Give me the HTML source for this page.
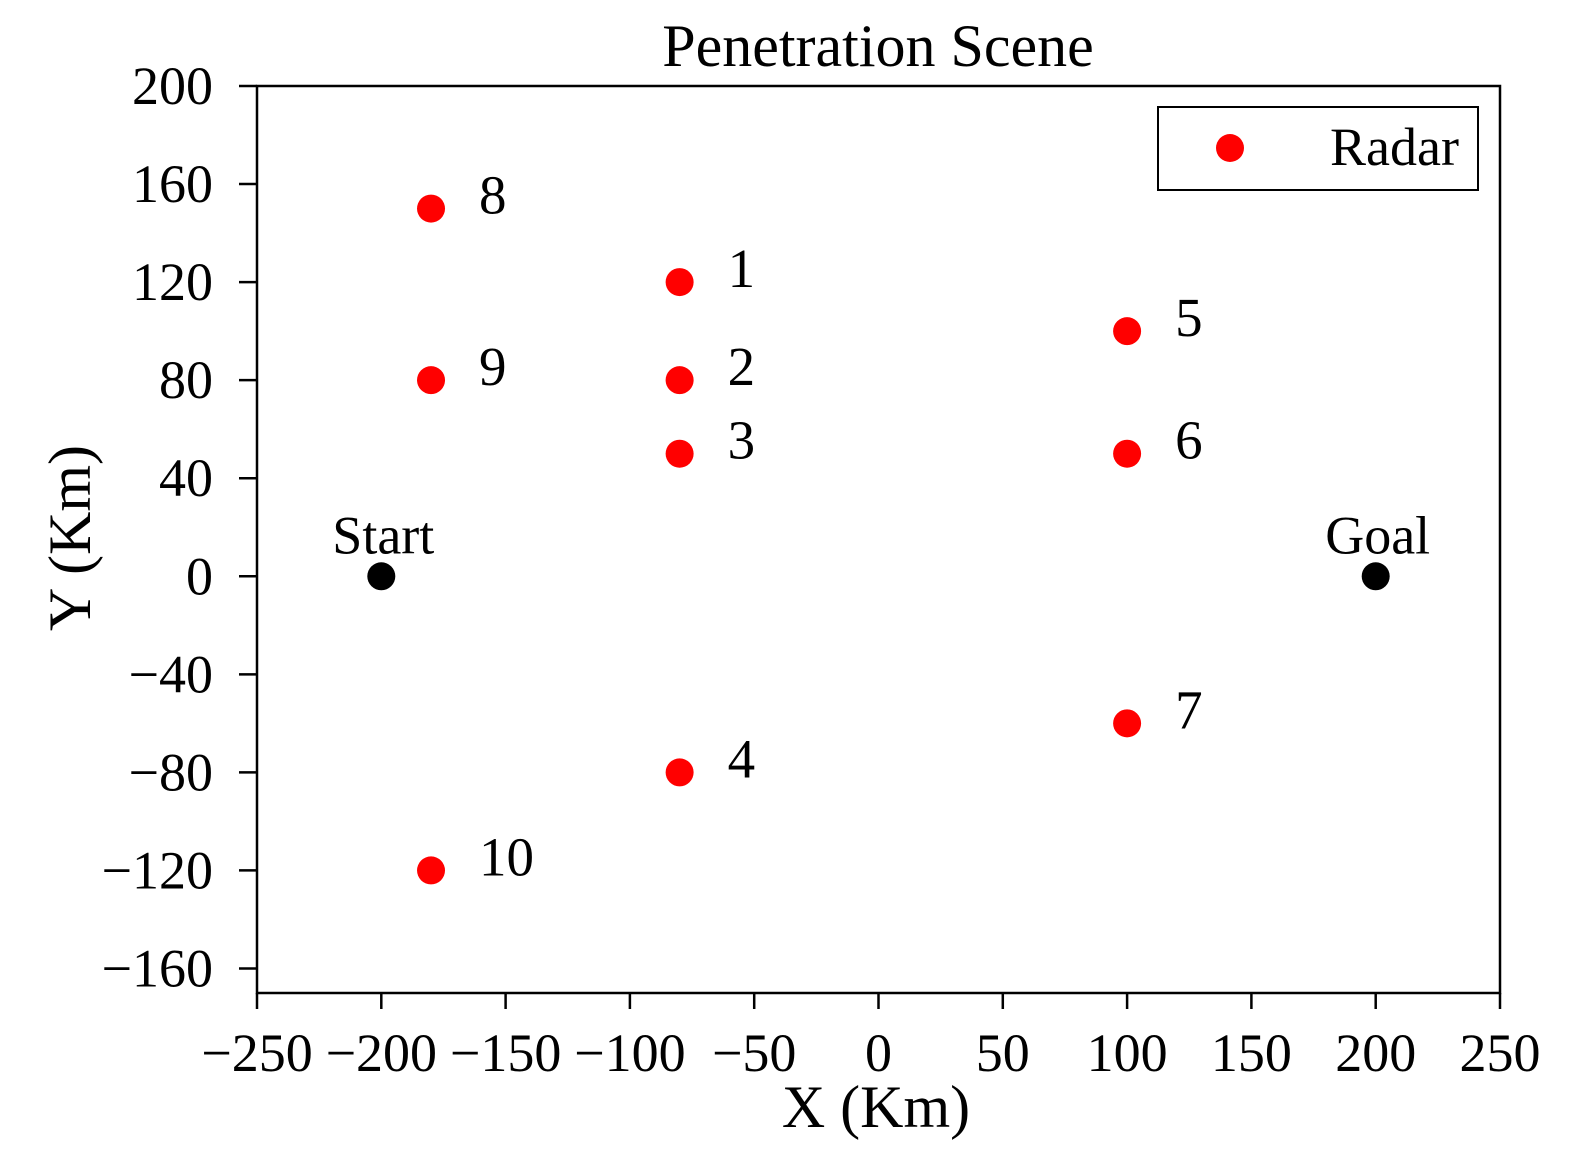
<!DOCTYPE html>
<html><head><meta charset="utf-8"><style>
html,body{margin:0;padding:0;background:#fff;}
svg{display:block;font-family:"Liberation Serif",serif;}
</style></head><body>
<svg id="chart" width="1579" height="1171" xmlns="http://www.w3.org/2000/svg"></svg>
<script>
const xTicks=[-250,-200,-150,-100,-50,0,50,100,150,200,250];
const yTicks=[200,160,120,80,40,0,-40,-80,-120,-160];
const radarIds=["1","2","3","4","5","6","7","8","9","10"];
const radarX=[-80,-80,-80,-80,100,100,100,-180,-180,-180];
const radarY=[120,80,50,-80,100,50,-60,150,80,-120];
const pointNames=["Start","Goal"];
const pointX=[-200,200];
const pointY=[0,0];

const L=257,R=1500,T=86,B=993;
const xmin=-250,xmax=250,ymin=-170,ymax=200;
const sx=v=>L+(v-xmin)/(xmax-xmin)*(R-L);
const sy=v=>B-(v-ymin)/(ymax-ymin)*(B-T);
const svg=document.getElementById('chart');
const NS="http://www.w3.org/2000/svg";
function mk(tag,attrs,parent){const e=document.createElementNS(NS,tag);for(const k in attrs)e.setAttribute(k,attrs[k]);(parent||svg).appendChild(e);return e;}

const title=mk('text',{x:878,y:66,'text-anchor':'middle','font-size':60});
title.textContent="Penetration Scene";



const frame=mk('rect',{x:L,y:T,width:R-L,height:B-T,fill:'none',stroke:'#000','stroke-width':2.5});



xTicks.forEach(v=>{
  const x=sx(v);
  const t=mk('line',{x1:x,x2:x,y1:B,y2:B+16,stroke:'#000','stroke-width':2.5});
  
  
  const l=mk('text',{x:x,y:B+78,'text-anchor':'middle','font-size':54});
  l.textContent=v<0?'\u2212'+(-v):String(v);
  
  
});
yTicks.forEach(v=>{
  const y=sy(v);
  const t=mk('line',{x1:L-18,x2:L,y1:y,y2:y,stroke:'#000','stroke-width':2.5});
  
  
  const l=mk('text',{x:L-44,y:y+18,'text-anchor':'end','font-size':54});
  l.textContent=v<0?'\u2212'+(-v):String(v);
  
  
});
const xt=mk('text',{x:876,y:1127,'text-anchor':'middle','font-size':60});
xt.textContent="X (Km)";


const yt=mk('text',{x:0,y:0,'text-anchor':'middle','font-size':60,transform:'translate(90,538) rotate(-90)'});
yt.textContent="Y (Km)";



radarX.forEach((v,i)=>{
  const cx=sx(v),cy=sy(radarY[i]);
  const c=mk('circle',{cx:cx,cy:cy,r:14,fill:'#ff0000'});
  
  
  const l=mk('text',{x:cx+48,y:cy+5,'font-size':55});
  l.textContent=radarIds[i];
  
  
});
pointX.forEach((v,i)=>{
  const cx=sx(v),cy=sy(pointY[i]);
  const c=mk('circle',{cx:cx,cy:cy,r:14,fill:'#000'});
  
  
  const l=mk('text',{x:cx+2,y:cy-23,'text-anchor':'middle','font-size':54});
  l.textContent=pointNames[i];
  
  
});

const lg=mk('g',{});


mk('rect',{x:1158,y:107,width:320,height:83,fill:'#fff',stroke:'#000','stroke-width':2},lg);
const lm=mk('circle',{cx:1230,cy:148,r:14,fill:'#ff0000'},lg);


const lt=mk('text',{x:1330,y:165,'font-size':54},lg);
lt.textContent="Radar";


</script>
</body></html>
